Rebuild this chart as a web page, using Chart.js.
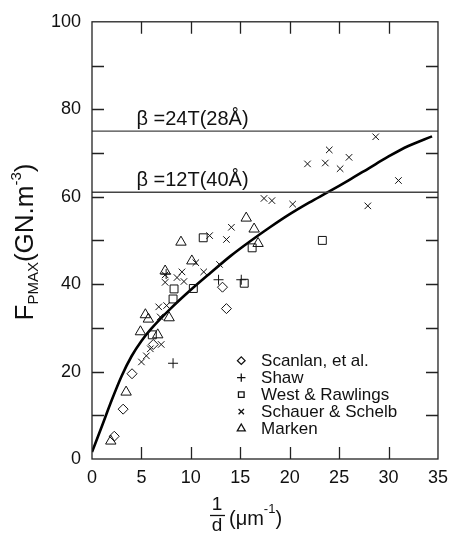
<!DOCTYPE html>
<html>
<head>
<meta charset="utf-8">
<script src="https://cdn.jsdelivr.net/npm/chart.js@4.4.1/dist/chart.umd.min.js"></script>
<style>
    html, body { margin: 0; padding: 0; background: #fff; }
    #wrap { width: 456px; height: 541px; }
</style>
</head>
<body>
<div id="wrap"><canvas id="chart" width="456" height="541"></canvas></div>
<script>
/* ==========================================================
   Pinning force vs 1/d  -  scatter with fitted curve
========================================================== */

// x = 1/d (um^-1), y = Fpmax (GN.m^-3)
const scanlan = [[2.25, 5.2], [3.15, 11.4], [4.05, 19.5], [6.2, 26.2], [13.2, 39.3], [13.6, 34.4]];
const shaw = [[8.2, 21.9], [7.5, 42.3], [12.8, 41.0], [15.1, 41.0]];
const westRawlings = [[6.1, 28.4], [8.2, 36.6], [8.3, 38.9], [10.25, 39.0], [11.25, 50.6],
                      [15.4, 40.2], [16.2, 48.3], [23.3, 50.0]];
const schauerSchelb = [[5.0, 22.2], [5.5, 23.6], [5.9, 25.2], [7.0, 26.2], [6.9, 32.5],
                       [6.75, 34.8], [7.55, 35.1], [7.4, 40.4], [7.4, 42.1], [8.6, 41.5],
                       [9.1, 42.8], [9.3, 40.6], [10.5, 44.9], [11.3, 42.8], [12.9, 44.5],
                       [11.9, 51.1], [13.6, 50.2], [14.1, 53.0], [17.4, 59.6], [18.2, 59.1],
                       [20.3, 58.3], [21.8, 67.5], [23.6, 67.7], [24.0, 70.7], [25.1, 66.4],
                       [26.0, 69.0], [27.9, 57.9], [28.7, 73.7], [31.0, 63.7]];
const marken = [[1.9, 4.1], [3.45, 15.3], [4.9, 29.1], [6.65, 28.4], [5.4, 33.0], [5.7, 32.0],
                [7.8, 32.3], [7.4, 43.0], [9.0, 49.6], [10.1, 45.3], [15.6, 55.1],
                [16.4, 52.6], [16.8, 49.3]];

// fitted curve
const fitX = [0, 1, 2, 3, 4, 5, 6, 8, 10, 12, 14, 16, 18, 20, 22, 24, 26, 28, 30, 32, 34.4];
const fitY = [1.6, 7.5, 13.5, 19.0, 23.5, 27.0, 29.8, 34.5, 38.7, 42.6, 46.4, 49.8, 53.0,
              56.0, 58.7, 61.2, 63.8, 66.5, 69.2, 71.6, 73.8];

// theoretical limits
const limitLevels = [75, 61];
const limitLabels = ["\u03B2 =24T(28\u00C5)", "\u03B2 =12T(40\u00C5)"];

const seriesNames = ["Scanlan, et al.", "Shaw", "West & Rawlings", "Schauer & Schelb", "Marken"];

const X_MIN = 0, X_MAX = 35, X_STEP = 5;
const Y_MIN = 0, Y_MAX = 100, Y_STEP = 10, Y_LABEL_STEP = 20;

/* =====================================================
   HELPERS
===================================================== */

const toPoints = arr => arr.map(p => ({ x: p[0], y: p[1] }));

function markerSet(label, data, style, radius) {
    return {
        type: "scatter",
        label,
        data: toPoints(data),
        pointStyle: style,
        pointRadius: radius,
        pointHoverRadius: radius,
        pointBorderWidth: 1,
        borderColor: "#111",
        backgroundColor: "rgba(0,0,0,0)",
        showLine: false
    };
}

const INK = "#111";
const AXIS_FONT = "'Liberation Sans', Arial, sans-serif";

/* =====================================================
   DECORATION PLUGIN (frame, inward ticks, titles, legend)
===================================================== */

const decorations = {
    id: "decorations",
    afterDatasetsDraw(chart) {
        const { ctx, chartArea: a, scales } = chart;
        const xs = scales.x, ys = scales.y;
        const tick = 12;

        ctx.save();
        ctx.strokeStyle = "#222";
        ctx.lineWidth = 1.3;
        ctx.strokeRect(a.left, a.top, a.right - a.left, a.bottom - a.top);

        ctx.beginPath();
        for (let v = X_MIN + X_STEP; v < X_MAX; v += X_STEP) {
            const px = Math.round(xs.getPixelForValue(v)) + 0.5;
            ctx.moveTo(px, a.bottom); ctx.lineTo(px, a.bottom - tick);
            ctx.moveTo(px, a.top); ctx.lineTo(px, a.top + tick);
        }
        for (let v = Y_MIN + Y_STEP; v < Y_MAX; v += Y_STEP) {
            const py = Math.round(ys.getPixelForValue(v)) + 0.5;
            ctx.moveTo(a.left, py); ctx.lineTo(a.left + tick, py);
            ctx.moveTo(a.right, py); ctx.lineTo(a.right - tick, py);
        }
        ctx.stroke();

        // labels on the limit lines
        ctx.fillStyle = INK;
        ctx.font = "20px " + AXIS_FONT;
        ctx.textBaseline = "alphabetic";
        ctx.textAlign = "left";
        limitLevels.forEach((lvl, i) => {
            ctx.fillText(limitLabels[i], xs.getPixelForValue(4.5), ys.getPixelForValue(lvl) - 6);
        });

        // legend (hollow markers, like the plot)
        const lx = xs.getPixelForValue(15.1);
        const tx = xs.getPixelForValue(17.1);
        const legendSizes = [3.8, 4.2, 4.0, 3.8, 4.6];
        ctx.font = "17px " + AXIS_FONT;
        ctx.textBaseline = "middle";
        chart.data.datasets.slice(0, seriesNames.length).forEach((ds, i) => {
            const y = ys.getPixelForValue(22.5) + i * 17;
            ctx.fillStyle = "rgba(0,0,0,0)";
            ctx.strokeStyle = INK;
            Chart.helpers.drawPoint(ctx, {
                pointStyle: ds.pointStyle,
                radius: legendSizes[i],
                rotation: 0,
                borderWidth: 1
            }, lx, y);
            ctx.fillStyle = INK;
            ctx.fillText(seriesNames[i], tx, y + 1);
        });

        ctx.restore();
    },

    afterDraw(chart) {
        const { ctx } = chart;
        ctx.save();
        ctx.fillStyle = INK;
        ctx.textBaseline = "alphabetic";
        ctx.textAlign = "left";

        // y title, rotated: F_PMAX(GN.m^-3)
        const parts = [
            { t: "F", size: 26, dy: 0 },
            { t: "PMAX", size: 15, dy: 5 },
            { t: "(GN.m", size: 26, dy: 0 },
            { t: "-3", size: 15, dy: -12 },
            { t: ")", size: 26, dy: 0 }
        ];
        let total = 0;
        parts.forEach(p => {
            ctx.font = p.size + "px " + AXIS_FONT;
            p.w = ctx.measureText(p.t).width;
            total += p.w;
        });
        ctx.translate(24, 242);
        ctx.rotate(-Math.PI / 2);
        let cx = -total / 2;
        parts.forEach(p => {
            ctx.font = p.size + "px " + AXIS_FONT;
            ctx.fillText(p.t, cx, 9 + p.dy);
            cx += p.w;
        });
        ctx.setTransform(1, 0, 0, 1, 0, 0);

        // x title: 1/d (um^-1)
        ctx.font = "19px " + AXIS_FONT;
        ctx.textAlign = "center";
        ctx.fillText("1", 217, 510);
        ctx.fillText("d", 217, 531);
        ctx.strokeStyle = INK;
        ctx.lineWidth = 1.3;
        ctx.beginPath();
        ctx.moveTo(210, 515.5); ctx.lineTo(225, 515.5);
        ctx.stroke();

        ctx.textAlign = "left";
        let x = 229;
        ctx.font = "20px " + AXIS_FONT;
        ctx.fillText("(\u03BCm", x, 525);
        x += ctx.measureText("(\u03BCm").width;
        ctx.font = "13px " + AXIS_FONT;
        ctx.fillText("-1", x, 513);
        x += ctx.measureText("-1").width;
        ctx.font = "20px " + AXIS_FONT;
        ctx.fillText(")", x, 525);

        ctx.restore();
    }
};

/* =====================================================
   CHART
===================================================== */

const limitSets = limitLevels.map(lvl => ({
    type: "line",
    data: [{ x: X_MIN, y: lvl }, { x: X_MAX, y: lvl }],
    borderColor: "#444",
    borderWidth: 1.4,
    pointRadius: 0,
    fill: false
}));

const fitSet = {
    type: "line",
    data: fitX.map((x, i) => ({ x, y: fitY[i] })),
    borderColor: "#000",
    borderWidth: 2.6,
    pointRadius: 0,
    cubicInterpolationMode: "monotone",
    fill: false
};

const ctx = document.getElementById("chart").getContext("2d");

new Chart(ctx, {
    type: "scatter",
    data: {
        datasets: [
            markerSet(seriesNames[0], scanlan, "rectRot", 5),
            markerSet(seriesNames[1], shaw, "cross", 5),
            markerSet(seriesNames[2], westRawlings, "rect", 5.6),
            markerSet(seriesNames[3], schauerSchelb, "crossRot", 4.6),
            markerSet(seriesNames[4], marken, "triangle", 6),
            ...limitSets,
            fitSet
        ]
    },
    options: {
        responsive: false,
        animation: false,
        layout: { padding: { top: 16, right: 15, left: 0, bottom: 0 } },
        plugins: {
            legend: { display: false },
            tooltip: { enabled: false }
        },
        scales: {
            x: {
                type: "linear",
                min: X_MIN,
                max: X_MAX,
                grid: { display: false, drawTicks: false },
                border: { display: false },
                ticks: {
                    stepSize: X_STEP,
                    padding: 8,
                    color: INK,
                    font: { family: AXIS_FONT, size: 18 }
                },
                afterFit: s => { s.height = 82; }
            },
            y: {
                type: "linear",
                min: Y_MIN,
                max: Y_MAX,
                grid: { display: false, drawTicks: false },
                border: { display: false },
                ticks: {
                    stepSize: Y_STEP,
                    padding: 11,
                    color: INK,
                    font: { family: AXIS_FONT, size: 18 },
                    callback: v => (v % Y_LABEL_STEP === 0 ? v : "")
                },
                afterFit: s => { s.width = 92; }
            }
        }
    },
    plugins: [decorations]
});
</script>
</body>
</html>
